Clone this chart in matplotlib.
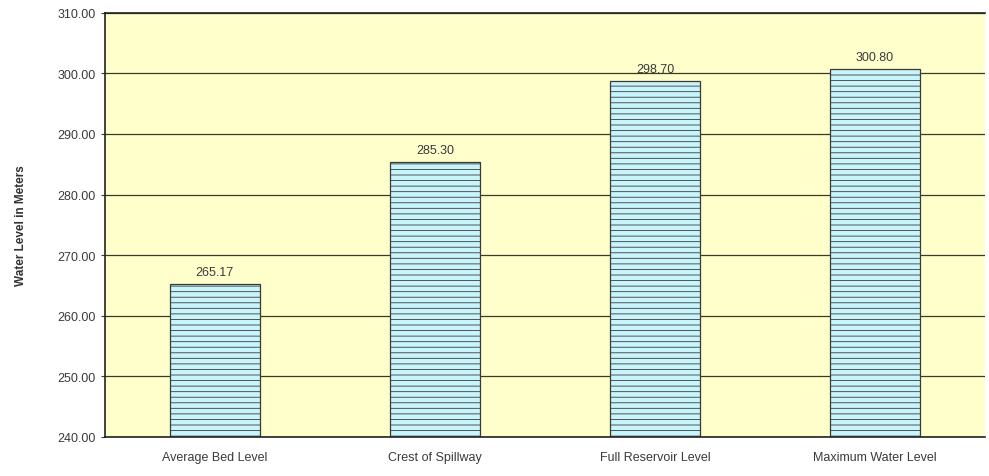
import matplotlib.pyplot as plt
from matplotlib.ticker import FormatStrFormatter

# water levels at the dam site
categories = ['Average Bed Level', 'Crest of Spillway', 'Full Reservoir Level', 'Maximum Water Level']
levels = [265.17, 285.30, 298.70, 300.80]
value_labels = ['265.17', '285.30', '298.70', '300.80']

plt.rcParams['font.family'] = ['Liberation Sans', 'DejaVu Sans']
plt.rcParams['hatch.linewidth'] = 0.6
plt.rcParams['hatch.color'] = '#8595a3'

fig = plt.figure(figsize=(9.89, 4.77), dpi=100)
ax = fig.add_axes([0.106, 0.082, 0.89, 0.889])
ax.set_facecolor('#ffffcc')

ax.set_axisbelow(True)
ax.yaxis.grid(True, color='#3a3a2a', linewidth=0.9)

bars = ax.bar(categories, [v - 240 for v in levels], bottom=240, width=0.41,
              color='#c8f4fc', edgecolor='#3a3a3a', linewidth=0.9, hatch='---')

for i, v in enumerate(levels):
    ax.text(i, v + 1.0, value_labels[i], ha='center', va='bottom', fontsize=9, color='#3a3a3a')

ax.set_xlim(-0.5, 3.5)
ax.set_ylim(240, 310)
ax.set_yticks(range(240, 311, 10))
ax.yaxis.set_major_formatter(FormatStrFormatter('%.2f'))
ax.tick_params(axis='both', labelsize=9, colors='#3a3a3a', length=3)
ax.tick_params(axis='x', length=0, pad=10)

ax.spines['right'].set_visible(False)
for s in ['left', 'top', 'bottom']:
    ax.spines[s].set_color('#222222')
    ax.spines[s].set_linewidth(1.2)

ax.set_ylabel('Water Level in Meters', fontsize=8.5, fontweight='bold', color='#333333', labelpad=22)

fig.savefig('out.png', dpi=100)
